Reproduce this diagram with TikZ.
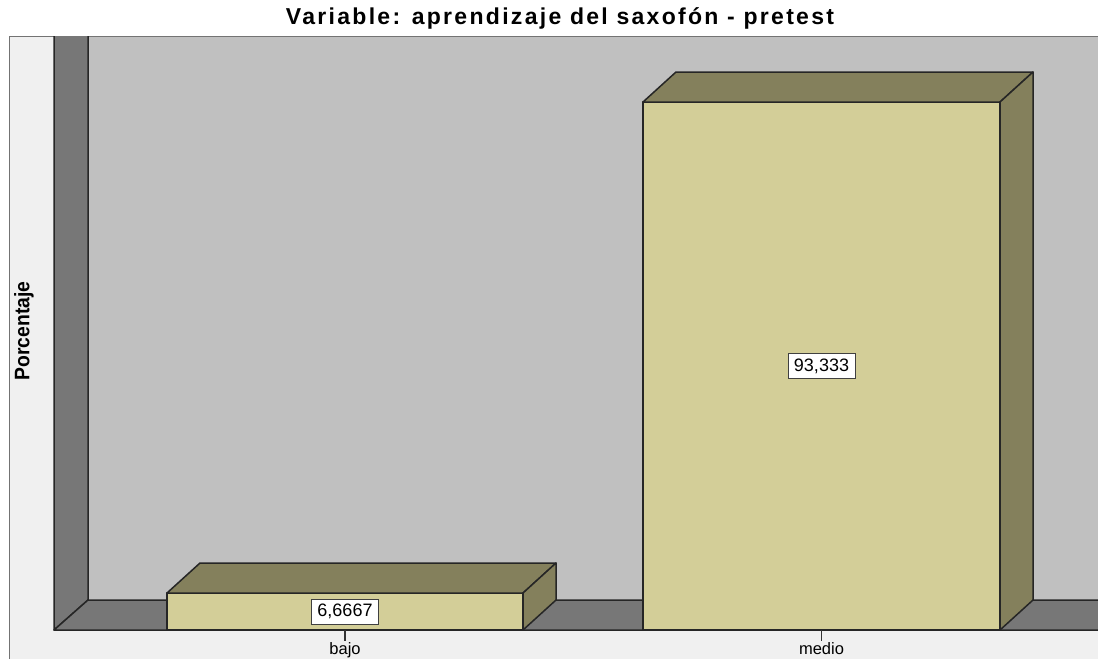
\documentclass[tikz,border=0pt]{standalone}
\usepackage{fontspec}
\setmainfont{Liberation Sans}
\newfontfamily\narrowfont[FakeStretch=0.92]{Liberation Sans}
\newfontfamily\titlefont[LetterSpace=10]{Liberation Sans}
\definecolor{barfront}{HTML}{D3CE98}
\definecolor{barside}{HTML}{84805C}
\definecolor{wallgray}{HTML}{777777}
\definecolor{plotgray}{HTML}{C0C0C0}
\definecolor{framegray}{HTML}{F0F0F0}
\begin{document}
\begin{tikzpicture}[x=1pt,y=-1pt]
\tikzset{edge lines/.style={draw=black!85, line width=1.5pt, line join=round},
  value box/.style={draw=black!75, fill=white, line width=1pt, inner sep=0pt,
    minimum width=67pt, minimum height=25pt, font=\fontsize{18}{18}\selectfont},
  cat label/.style={font=\fontsize{16.5}{16.5}\selectfont, inner sep=1pt}}
\useasboundingbox (0,0) rectangle (1098,659);
% Draw the frame
\fill[white] (0,0) rectangle (1098,659);
\fill[framegray] (9,36) rectangle (1098,659);
\fill[plotgray] (88,36) rectangle (1098,600);
\draw[black!55, line width=1pt] (9,659) -- (9,36) -- (1098,36);
% wall and floor
\filldraw[fill=wallgray, edge lines] (54,36) -- (54,630) -- (88,600) -- (88,36);
\filldraw[fill=wallgray, edge lines] (1098,600) -- (88,600) -- (54,630) -- (1098,630);
% the bars
\foreach \x/\w/\top/\val/\name in {167/356/593/{6,6667}/bajo, 643/357/102/{93,333}/medio} {
  \filldraw[fill=barfront, edge lines] (\x,\top) rectangle (\x+\w,630);
  \filldraw[fill=barside, edge lines] (\x,\top) -- ++(33,-30) -- ++(\w,0) -- ++(-33,30) -- cycle;
  \filldraw[fill=barside, edge lines] (\x+\w,\top) -- ++(33,-30) -- (\x+\w+33,600) -- (\x+\w,630) -- cycle;
  \node[value box] (v\name) at (\x+\w/2,{(\top+630)/2}) {\val};
  % ticks and names
  \coordinate (t\name) at (\x+\w/2,630);
  \node[cat label, anchor=north] (l\name) at (\x+\w/2,641) {\name};
  \draw[black!80, line width=1.2pt] (t\name) -- (l\name.north);
}
% the titles
\node[font=\titlefont\bfseries\fontsize{23}{23}\selectfont] (title) at (560,18) {Variable: aprendizaje del saxofón - pretest};
\node[rotate=90, font=\narrowfont\bfseries\fontsize{21}{21}\selectfont] (ylabel) at (24,331) {Porcentaje};
\end{tikzpicture}
\end{document}
